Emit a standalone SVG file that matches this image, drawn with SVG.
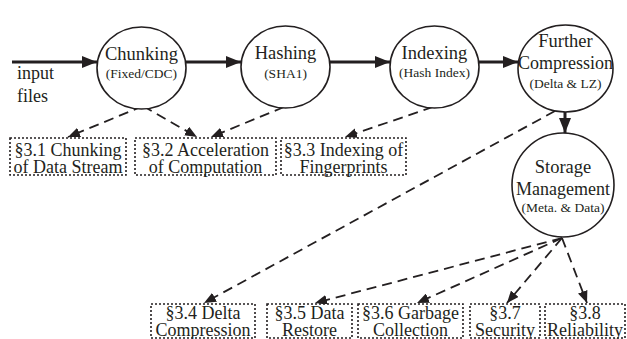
<svg xmlns="http://www.w3.org/2000/svg" width="627" height="339" viewBox="0 0 627 339">
  <style>
    .stage { fill: #ffffff; stroke: #231f20; stroke-width: 1.6; }
    .topic { fill: #ffffff; stroke: #231f20; stroke-width: 1.6; stroke-dasharray: 2 2; }
    .flow { fill: none; stroke: #231f20; stroke-width: 3; }
    .link { fill: none; stroke: #231f20; stroke-width: 1.8; stroke-dasharray: 10 6; }
    text { font-family: "Liberation Serif", "Times New Roman", serif; fill: #231f20; text-anchor: middle; }
    .main { font-size: 18.5px; }
    .sub { font-size: 13.5px; }
    .box { font-size: 18px; }
    .note { font-size: 18px; text-anchor: start; }
  </style>
  <defs>
    <marker id="solidHead" markerUnits="userSpaceOnUse" markerWidth="15" markerHeight="12" refX="15" refY="6" orient="auto">
      <path d="M0,0 L15,6 L0,12 z" fill="#231f20"/>
    </marker>
    <marker id="dashHead" markerUnits="userSpaceOnUse" markerWidth="12" markerHeight="10" refX="12" refY="5" orient="auto">
      <path d="M0,0 L12,5 L0,10 z" fill="#231f20"/>
    </marker>
  </defs>

  <rect width="627" height="339" fill="#ffffff"/>

  <!-- connectors -->
  <g id="connectors">
    <path class="flow" d="M12,62 L97,62" marker-end="url(#solidHead)"/>
    <path class="flow" d="M186,62 L241,62" marker-end="url(#solidHead)"/>
    <path class="flow" d="M330,62 L390,62" marker-end="url(#solidHead)"/>
    <path class="flow" d="M479,62 L518,62" marker-end="url(#solidHead)"/>
    <path class="flow" d="M565,112 L565,133" marker-end="url(#solidHead)"/>

    <path class="link" d="M143,106 L68,137" marker-end="url(#dashHead)"/>
    <path class="link" d="M143,106 L197,137" marker-end="url(#dashHead)"/>
    <path class="link" d="M284,107 L211,137" marker-end="url(#dashHead)"/>
    <path class="link" d="M433,107 L345,137" marker-end="url(#dashHead)"/>
    <path class="link" d="M555,111 L204,303" marker-end="url(#dashHead)"/>
    <path class="link" d="M562,238 L315,303" marker-end="url(#dashHead)"/>
    <path class="link" d="M562,238 L417,303" marker-end="url(#dashHead)"/>
    <path class="link" d="M562,238 L507,303" marker-end="url(#dashHead)"/>
    <path class="link" d="M562,238 L587,303" marker-end="url(#dashHead)"/>
  </g>

  <text class="note" x="17" y="79">input<tspan x="17" dy="23">files</tspan></text>

  <!-- pipeline stages -->
  <g id="chunking">
    <ellipse class="stage" cx="141.5" cy="68" rx="44.5" ry="41"/>
    <text class="main" x="141.5" y="60">Chunking<tspan class="sub" x="141.5" dy="18">(Fixed/CDC)</tspan></text>
  </g>
  <g id="hashing">
    <ellipse class="stage" cx="285.5" cy="67" rx="44.5" ry="41"/>
    <text class="main" x="285.5" y="59">Hashing<tspan class="sub" x="285.5" dy="19">(SHA1)</tspan></text>
  </g>
  <g id="indexing">
    <ellipse class="stage" cx="434.5" cy="67" rx="44.5" ry="41"/>
    <text class="main" x="434.5" y="59">Indexing<tspan class="sub" x="434.5" dy="18">(Hash Index)</tspan></text>
  </g>
  <g id="further-compression">
    <ellipse class="stage" cx="565.5" cy="68.5" rx="47.5" ry="43.5"/>
    <text class="main" x="565.5" y="47">Further<tspan x="565.5" dy="22" style="font-size:18px">Compression</tspan><tspan class="sub" x="565.5" dy="19">(Delta &amp; LZ)</tspan></text>
  </g>
  <g id="storage-management">
    <ellipse class="stage" cx="563" cy="185" rx="51" ry="52"/>
    <text class="main" x="563" y="173">Storage<tspan x="563" dy="22" style="font-size:18px">Management</tspan><tspan class="sub" x="563" dy="17">(Meta. &amp; Data)</tspan></text>
  </g>

  <!-- section boxes -->
  <g id="sec-3-1">
    <rect class="topic" x="10" y="138" width="116" height="37"/>
    <text class="box" x="68" y="156">§3.1 Chunking<tspan x="68" dy="17">of Data Stream</tspan></text>
  </g>
  <g id="sec-3-2">
    <rect class="topic" x="135" y="138" width="141" height="37"/>
    <text class="box" x="205.5" y="156">§3.2 Acceleration<tspan x="205.5" dy="17">of Computation</tspan></text>
  </g>
  <g id="sec-3-3">
    <rect class="topic" x="281" y="138" width="125" height="37"/>
    <text class="box" x="343.5" y="156">§3.3 Indexing of<tspan x="343.5" dy="17">Fingerprints</tspan></text>
  </g>
  <g id="sec-3-4">
    <rect class="topic" x="151" y="304" width="104" height="34"/>
    <text class="box" x="203" y="319">§3.4 Delta<tspan x="203" dy="17">Compression</tspan></text>
  </g>
  <g id="sec-3-5">
    <rect class="topic" x="267" y="304" width="85" height="34"/>
    <text class="box" x="309.5" y="319">§3.5 Data<tspan x="309.5" dy="17">Restore</tspan></text>
  </g>
  <g id="sec-3-6">
    <rect class="topic" x="358" y="304" width="105" height="34"/>
    <text class="box" x="410.5" y="319">§3.6 Garbage<tspan x="410.5" dy="17">Collection</tspan></text>
  </g>
  <g id="sec-3-7">
    <rect class="topic" x="470" y="304" width="70" height="34"/>
    <text class="box" x="505" y="319">§3.7<tspan x="505" dy="17">Security</tspan></text>
  </g>
  <g id="sec-3-8">
    <rect class="topic" x="545" y="304" width="80" height="34"/>
    <text class="box" x="585" y="319">§3.8<tspan x="585" dy="17">Reliability</tspan></text>
  </g>
</svg>
